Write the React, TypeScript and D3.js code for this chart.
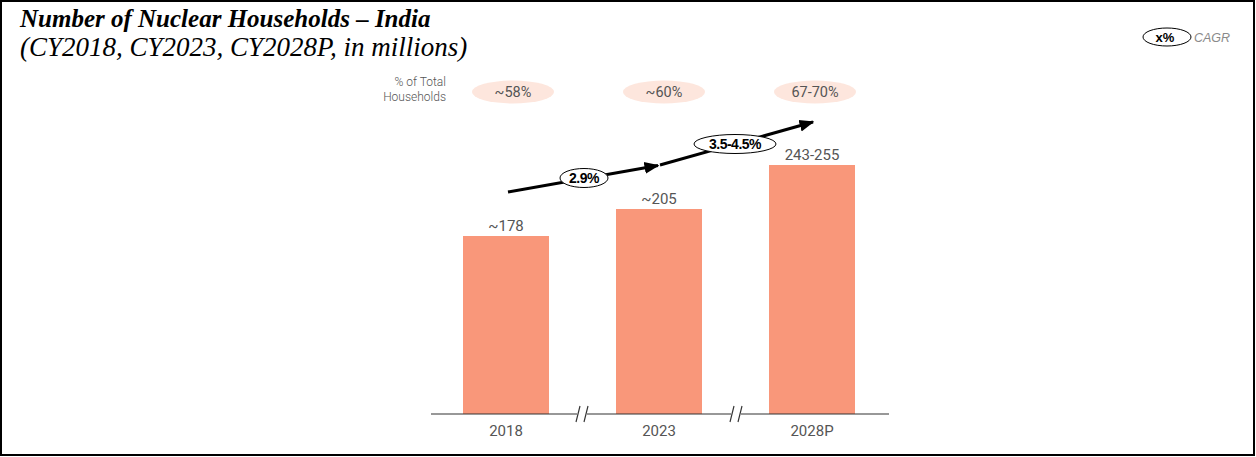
import React from "react";
import * as d3 from "d3";

const categories = ["2018", "2023", "2028P"];
const values = [178, 205, 249];
const valueLabels = ["~178", "~205", "243-255"];
const shareLabels = ["~58%", "~60%", "67-70%"];
const cagrLabels = ["2.9%", "3.5-4.5%"];

const W = 1256;
const H = 457;
const BAR_COLOR = "#F9977A";
const PILL_COLOR = "#FDE6DD";
const FONT = "Roboto, 'Noto Sans', sans-serif";

export default function App() {
  const x = d3.scalePoint<string>().domain(categories).range([506, 812]);
  const y = d3.scaleLinear().domain([0, 300]).range([414, 114]);
  const barW = 86;
  const baseY = y(0);

  const arrowPts: [number, number][] = [
    [(x("2018") as number) + 2, 192],
    [(x("2023") as number) + 1, 165],
    [(x("2028P") as number) + 1, 122],
  ];
  const ellipses = [
    { cx: 584, cy: 178, rx: 24, ry: 9.5 },
    { cx: 735, cy: 144, rx: 41, ry: 9.5 },
  ];
  const breaks = [582, 736];

  return (
    <svg
      width={W}
      height={H}
      style={{ position: "absolute", left: 0, top: 0, background: "#fff" }}
    >
      <defs>
        <marker
          id="ah"
          viewBox="0 0 10 10"
          refX="9"
          refY="5"
          markerWidth="5"
          markerHeight="5"
          orient="auto"
          markerUnits="strokeWidth"
        >
          <path d="M0,1 L10,5 L0,9 z" fill="#000" />
        </marker>
      </defs>
      <rect x={1} y={1} width={W - 3} height={H - 3} fill="#fff" stroke="#000" strokeWidth={2} />

      <text
        x={20}
        y={27}
        fontFamily="'Liberation Serif', 'Times New Roman', serif"
        fontStyle="italic"
        fontWeight="bold"
        fontSize={25}
        fill="#000"
      >
        Number of Nuclear Households – India
      </text>
      <text
        x={20}
        y={56}
        fontFamily="'Liberation Serif', 'Times New Roman', serif"
        fontStyle="italic"
        fontSize={27}
        fill="#000"
      >
        (CY2018, CY2023, CY2028P, in millions)
      </text>

      {/* legend */}
      <ellipse cx={1167} cy={37} rx={24} ry={9} fill="#fff" stroke="#000" strokeWidth={1} />
      <text x={1165} y={41.5} textAnchor="middle" fontFamily="Arial, 'Liberation Sans', sans-serif" fontWeight="bold" fontSize={13} fill="#000">
        x%
      </text>
      <text x={1194} y={41.5} fontFamily="Arial, 'Liberation Sans', sans-serif" fontStyle="italic" fontSize={12.5} fill="#8a8a8a">
        CAGR
      </text>

      {/* % of total households */}
      <text x={446} y={86} textAnchor="end" fontFamily={FONT} fontSize={12} fill="#555" fontWeight={300}>
        % of Total
      </text>
      <text x={446} y={101} textAnchor="end" fontFamily={FONT} fontSize={12} fill="#555" fontWeight={300}>
        Households
      </text>
      {categories.map((c, i) => (
        <g key={"pill" + c}>
          <ellipse cx={(x(c) as number) + 7 - i * 2} cy={92} rx={41} ry={11.5} fill={PILL_COLOR} />
          <text
            x={(x(c) as number) + 7 - i * 2}
            y={97}
            textAnchor="middle"
            fontFamily={FONT}
            fontSize={14.5}
            fill="#555"
          >
            {shareLabels[i]}
          </text>
        </g>
      ))}

      {/* bars */}
      {categories.map((c, i) => (
        <g key={"bar" + c}>
          <rect
            x={(x(c) as number) - barW / 2}
            y={y(values[i])}
            width={barW}
            height={baseY - y(values[i])}
            fill={BAR_COLOR}
          />
          <text
            x={x(c) as number}
            y={y(values[i]) - 5}
            textAnchor="middle"
            fontFamily={FONT}
            fontSize={15}
            fill="#555"
          >
            {valueLabels[i]}
          </text>
          <text
            x={x(c) as number}
            y={436}
            textAnchor="middle"
            fontFamily={FONT}
            fontSize={15}
            fill="#555"
          >
            {c}
          </text>
        </g>
      ))}

      {/* axis */}
      <line x1={431} x2={889} y1={baseY} y2={baseY} stroke="#333" strokeWidth={1.2} />
      {breaks.map((bx) => (
        <g key={"br" + bx}>
          <rect x={bx - 5} y={baseY - 2} width={10} height={4} fill="#fff" />
          <line x1={bx - 6} y1={baseY + 8} x2={bx - 2} y2={baseY - 8} stroke="#333" strokeWidth={1.2} />
          <line x1={bx + 2} y1={baseY + 8} x2={bx + 6} y2={baseY - 8} stroke="#333" strokeWidth={1.2} />
        </g>
      ))}

      {/* CAGR arrows */}
      {[0, 1].map((k) => (
        <line
          key={"arr" + k}
          x1={arrowPts[k][0]}
          y1={arrowPts[k][1]}
          x2={arrowPts[k + 1][0] - (k === 0 ? 2 : 0)}
          y2={arrowPts[k + 1][1] + (k === 0 ? 0.5 : 0)}
          stroke="#000"
          strokeWidth={3}
          markerEnd="url(#ah)"
        />
      ))}
      {ellipses.map((e, k) => (
        <g key={"el" + k}>
          <ellipse cx={e.cx} cy={e.cy} rx={e.rx} ry={e.ry} fill="#fff" stroke="#000" strokeWidth={1} />
          <text
            x={e.cx}
            y={e.cy + 5}
            textAnchor="middle"
            fontFamily="Arial, 'Liberation Sans', sans-serif"
            fontWeight="bold"
            fontSize={14}
            letterSpacing={-0.5}
            fill="#000"
          >
            {cagrLabels[k]}
          </text>
        </g>
      ))}
    </svg>
  );
}
